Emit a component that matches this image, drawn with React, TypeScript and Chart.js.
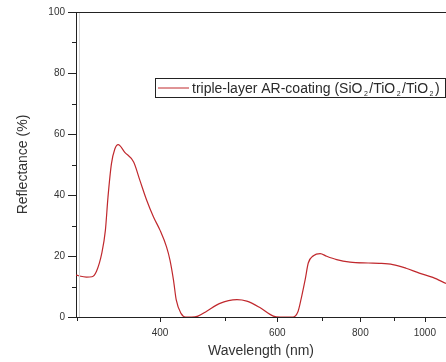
import React, { useEffect, useRef } from 'react';
import { Chart, registerables } from 'chart.js';

Chart.register(...registerables);

const wavelengths = [299, 310, 316, 321, 327, 331, 334, 338, 342, 346, 354, 365, 373, 382, 391, 400, 409, 414, 419, 423, 430, 437, 446, 456, 470, 491, 522, 540, 565, 592, 606, 634, 645, 653, 661, 668, 680, 696, 712, 737, 772, 822, 854, 895, 937, 981, 1028, 1076];
const reflectance = [13.7, 13.1, 13.2, 15.0, 21.0, 28.4, 39.3, 50.2, 55.1, 56.5, 54.0, 50.8, 44.8, 38.2, 32.8, 28.4, 23.0, 18.6, 12.1, 5.6, 1.2, 0.0, 0.0, 0.3, 1.9, 4.4, 5.7, 5.2, 3.1, 0.3, 0.0, 0.0, 1.9, 6.8, 12.3, 17.7, 20.1, 20.8, 19.9, 18.8, 18.0, 17.7, 17.6, 17.2, 16.0, 14.4, 13.0, 11.0];

const xMajorTicks = [400, 600, 800, 1000];
const xMinorTicks = [300, 500, 700, 900];
const yMajorTicks = [0, 20, 40, 60, 80, 100];
const yMinorTicks = [10, 30, 50, 70, 90];
const xRange = [299, 1076];
const yRange = [0, 100];

const xTitle = 'Wavelength (nm)';
const yTitle = 'Reflectance (%)';
// legend label pieces: [text, isSubscript]
const legendParts: [string, boolean][] = [
  ['triple-layer AR-coating (SiO', false],
  ['2', true],
  ['/TiO', false],
  ['2', true],
  ['/TiO', false],
  ['2', true],
  [')', false],
];

const LINE_COLOR = '#c0282d';
const AXIS_COLOR = '#222';
const FONT = 'Liberation Sans, Arial, sans-serif';

const decorPlugin = {
  id: 'decor',
  afterDraw(chart: any) {
    const { ctx, chartArea, scales } = chart;
    const { left, right, top, bottom } = chartArea;
    const x = scales.x;
    const y = scales.y;
    const seg = (x1: number, y1: number, x2: number, y2: number) => {
      ctx.beginPath();
      ctx.moveTo(x1, y1);
      ctx.lineTo(x2, y2);
      ctx.stroke();
    };
    ctx.save();
    // faint inner frame line
    ctx.strokeStyle = '#d4d4d4';
    ctx.lineWidth = 1;
    seg(Math.round(left) + 3.5, top, Math.round(left) + 3.5, bottom);
    ctx.strokeStyle = AXIS_COLOR;
    // top frame
    seg(left, Math.round(top) + 0.5, right, Math.round(top) + 0.5);
    // y ticks
    for (const v of yMajorTicks) {
      const py = Math.round(y.getPixelForValue(v)) + 0.5;
      seg(left - 8, py, left, py);
    }
    for (const v of yMinorTicks) {
      const py = Math.round(y.getPixelForValue(v)) + 0.5;
      seg(left - 4, py, left, py);
    }
    // x ticks
    for (const v of xMajorTicks) {
      const px = Math.round(x.getPixelForValue(v)) + 0.5;
      seg(px, bottom, px, bottom + 5);
    }
    for (const v of xMinorTicks) {
      const px = Math.round(x.getPixelForValue(v)) + 0.5;
      seg(px, bottom, px, bottom + 4);
    }
    // legend box
    const lx = Math.round(left) + 79;
    const ly = Math.round(top) + 66;
    const lw = 290;
    const lh = 19;
    ctx.strokeStyle = AXIS_COLOR;
    ctx.strokeRect(lx + 0.5, ly + 0.5, lw, lh);
    ctx.strokeStyle = LINE_COLOR;
    seg(lx + 3, ly + lh / 2 + 0.5, lx + 34, ly + lh / 2 + 0.5);
    let tx = lx + 37;
    const ty = ly + lh / 2 + 5;
    ctx.fillStyle = '#2a2a2a';
    ctx.textBaseline = 'alphabetic';
    ctx.textAlign = 'left';
    for (const [t, sub] of legendParts) {
      if (sub) {
        ctx.font = `7px ${FONT}`;
        ctx.fillText(t, tx + 1.5, ty + 3);
        tx += ctx.measureText(t).width + 3;
      } else {
        ctx.font = `14px ${FONT}`;
        ctx.fillText(t, tx, ty);
        tx += ctx.measureText(t).width;
      }
    }
    ctx.restore();
  },
};

export default function App() {
  const ref = useRef<HTMLCanvasElement | null>(null);
  useEffect(() => {
    if (!ref.current) return;
    Chart.defaults.font.family = FONT;
    const chart = new Chart(ref.current, {
      type: 'line',
      data: {
        datasets: [
          {
            label: 'triple-layer AR-coating (SiO₂/TiO₂/TiO₂)',
            data: wavelengths.map((w, i) => ({ x: w, y: reflectance[i] })),
            borderColor: LINE_COLOR,
            borderWidth: 1.2,
            pointRadius: 0,
            fill: false,
            cubicInterpolationMode: 'monotone',
          },
        ],
      },
      options: {
        animation: false,
        responsive: true,
        maintainAspectRatio: false,
        layout: { padding: { top: 12, right: 0, left: 0, bottom: 0 } },
        plugins: { legend: { display: false }, tooltip: { enabled: false } },
        scales: {
          x: {
            type: 'logarithmic',
            min: xRange[0],
            max: xRange[1],
            afterBuildTicks: (scale: any) => {
              scale.ticks = xMajorTicks.map((v) => ({ value: v }));
            },
            afterFit: (scale: any) => {
              scale.height = 45;
            },
            grid: { display: false, drawTicks: true, tickLength: 8 },
            border: { display: true, color: AXIS_COLOR, width: 1 },
            ticks: {
              autoSkip: false,
              maxRotation: 0,
              padding: 2,
              color: '#333',
              font: { size: 10 },
              callback: (v: any) => String(v),
            },
            title: {
              display: true,
              text: xTitle,
              color: '#333',
              font: { size: 14 },
              padding: { top: 0, bottom: 2 },
            },
          },
          y: {
            type: 'linear',
            min: yRange[0],
            max: yRange[1],
            afterBuildTicks: (scale: any) => {
              scale.ticks = yMajorTicks.map((v) => ({ value: v }));
            },
            afterFit: (scale: any) => {
              scale.width = 76;
            },
            grid: { display: false, drawTicks: true, tickLength: 8 },
            border: { display: true, color: AXIS_COLOR, width: 1 },
            ticks: {
              padding: 3,
              color: '#333',
              font: { size: 10 },
              callback: (v: any) => String(v),
            },
            title: {
              display: true,
              text: yTitle,
              color: '#333',
              font: { size: 14 },
              padding: { top: 15, bottom: 0 },
            },
          },
        },
      },
      plugins: [decorPlugin],
    } as any);
    return () => chart.destroy();
  }, []);
  return (
    <div style={{ position: 'absolute', left: 0, top: 0, width: 446, height: 362, background: '#fff' }}>
      <canvas ref={ref} />
    </div>
  );
}
